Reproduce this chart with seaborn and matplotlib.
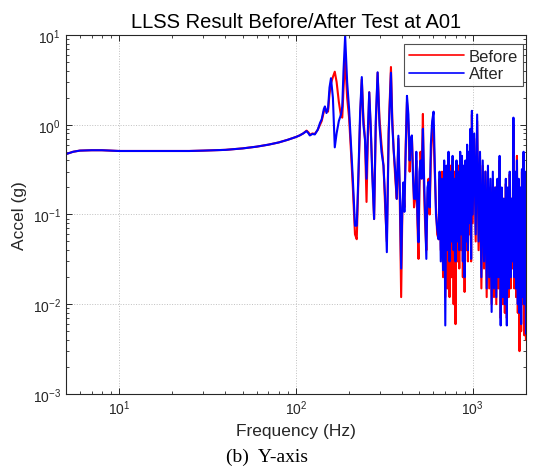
import numpy as np
import pandas as pd
import matplotlib
matplotlib.use("Agg")
import matplotlib.pyplot as plt
import seaborn as sns
from matplotlib.ticker import NullFormatter

# frequency points (Hz)
freq = [5, 5.5, 6, 7, 8, 9, 10, 12, 15, 20,
        25, 30, 40, 50, 60, 70, 80, 90, 100, 105,
        110, 115, 118, 120, 124, 128, 133, 137, 140, 144,
        146, 149, 152, 155, 158, 162, 166, 170, 175, 180,
        183, 186, 190, 195, 200, 205, 210, 216, 221, 226,
        231,
        236, 241, 246, 251, 255, 260, 265, 270, 277, 283,
        290, 297, 305, 313, 320, 327, 335, 345, 351, 357,
        365, 372, 380, 387, 394, 400, 406, 411, 418, 425,
        433, 440, 447, 453, 460, 466, 473, 480, 487, 494,
        500, 507, 515, 523, 530, 538, 547, 555, 563, 571,
        580, 590, 601, 610, 620, 630, 642,
        650, 660, 670, 680, 690, 700, 710, 720, 730, 740,
        750, 760, 770, 780, 790, 800, 810, 820, 830, 840,
        850, 860, 870, 880, 890, 900, 910, 920, 930, 940,
        950, 960, 970, 980, 990, 1000,
        1020, 1040, 1060, 1080, 1100, 1120, 1140, 1160, 1180, 1200,
        1220, 1240, 1260, 1280, 1300, 1320, 1340, 1360, 1380, 1400,
        1420, 1440, 1460, 1480, 1500, 1520, 1540, 1560, 1580, 1600,
        1620, 1640, 1660, 1680, 1700, 1720, 1740, 1760, 1780, 1800,
        1820, 1840, 1860, 1880, 1900, 1920, 1940, 1960, 1980, 2000]

before = [0.47, 0.50, 0.515, 0.52, 0.52, 0.515, 0.51, 0.51, 0.51, 0.51,
          0.51, 0.515, 0.525, 0.545, 0.57, 0.60, 0.635, 0.68, 0.73, 0.76,
          0.80, 0.86, 0.82, 0.77, 0.80, 0.79, 0.88, 1.0, 1.1, 1.4,
          1.55, 1.45, 1.4, 2.2, 2.9, 3.4, 3.9, 3.0, 1.8, 1.25,
          1.2, 2.5, 5.4, 2.0, 1.2, 0.5, 0.2, 0.06, 0.053, 0.25,
          1.2,
          3.2, 1.2, 0.69, 0.138, 0.6, 2.3, 0.9, 0.35, 0.089, 0.9,
          3.8, 1.2, 0.6, 0.35, 0.12, 0.05, 0.9, 4.4, 1.2, 0.54,
          0.25, 0.15, 0.7, 0.15, 0.012, 0.1, 0.2, 0.12, 0.6, 1.8,
          1.0, 0.3, 0.6, 0.75, 0.3, 0.12, 0.15, 0.4, 0.08, 0.032,
          0.2, 0.5, 0.3, 1.32, 0.2, 0.08, 0.04, 0.15, 0.25, 0.1,
          0.4, 0.9, 0.8, 0.3, 0.12, 0.06, 0.053,
          0.25, 0.04, 0.3, 0.02, 0.35, 0.012, 0.3, 0.015, 0.45, 0.012,
          0.35, 0.02, 0.4, 0.01, 0.3, 0.006, 0.35, 0.03, 0.35, 0.025,
          0.45, 0.04, 0.4, 0.02, 0.3, 0.0137, 0.35, 0.04, 0.5, 0.03,
          0.45, 0.06, 0.8, 0.03, 1.3, 0.08,
          0.7, 0.05, 1.1, 0.04, 0.45, 0.015, 0.35, 0.025, 0.3, 0.012,
          0.3, 0.015, 0.2, 0.01, 0.25, 0.012, 0.2, 0.01, 0.22, 0.015,
          0.4, 0.007, 0.18, 0.01, 0.15, 0.008, 0.22, 0.007, 0.18, 0.012,
          0.28, 0.015, 0.15, 0.025, 1.0, 0.015, 0.28, 0.012, 0.45, 0.008,
          0.22, 0.003, 0.18, 0.005, 0.3, 0.01, 0.45, 0.0045, 0.28, 0.004]

after = [0.47, 0.50, 0.515, 0.52, 0.52, 0.515, 0.51, 0.51, 0.51, 0.51,
         0.51, 0.515, 0.525, 0.545, 0.57, 0.60, 0.635, 0.68, 0.73, 0.76,
         0.80, 0.85, 0.80, 0.76, 0.79, 0.78, 0.88, 1.05, 1.15, 1.5,
         1.6, 1.35, 1.5, 2.6, 3.3, 2.0, 0.56, 0.8, 1.1, 1.3,
         1.6, 4.0, 9.8, 3.0, 1.5, 0.6, 0.25, 0.075, 0.075, 0.3,
         1.4,
         3.4, 1.0, 0.69, 0.25, 0.8, 2.3, 1.0, 0.3, 0.089, 1.1,
         3.84, 1.0, 0.5, 0.35, 0.15, 0.038, 0.8, 3.8, 1.0, 0.54,
         0.3, 0.149, 0.755, 0.2, 0.025, 0.12, 0.228, 0.107, 0.5, 2.1,
         1.3, 0.4, 0.7, 0.76, 0.25, 0.15, 0.149, 0.5, 0.1, 0.049,
         0.3, 0.4, 0.25, 0.9, 0.3, 0.1, 0.032, 0.2, 0.23, 0.12,
         0.6, 1.1, 1.4, 0.4, 0.1, 0.07, 0.053,
         0.3, 0.03, 0.25, 0.024, 0.4, 0.0058, 0.35, 0.04, 0.5, 0.03,
         0.3, 0.05, 0.45, 0.04, 0.25, 0.03, 0.4, 0.05, 0.3, 0.04,
         0.5, 0.06, 0.45, 0.03, 0.35, 0.02, 0.4, 0.05, 0.6, 0.04,
         0.5, 0.08, 0.9, 0.032, 1.43, 0.1,
         0.8, 0.06, 1.3, 0.05, 0.5, 0.02, 0.4, 0.03, 0.3, 0.015,
         0.35, 0.02, 0.25, 0.0082, 0.3, 0.015, 0.2, 0.012, 0.25, 0.02,
         0.45, 0.0058, 0.2, 0.012, 0.15, 0.01, 0.25, 0.0058, 0.2, 0.015,
         0.3, 0.02, 0.15, 0.03, 1.2, 0.02, 0.3, 0.015, 0.4, 0.01,
         0.25, 0.008, 0.2, 0.006, 0.32, 0.012, 0.5, 0.01, 0.3, 0.0047]

n = len(freq)
df = pd.DataFrame({
    "Frequency": freq + freq,
    "Accel": before + after,
    "Test": ["Before"] * n + ["After"] * n,
})

sns.set_style("ticks")
plt.rcParams["font.family"] = ["Liberation Sans", "DejaVu Sans"]
dark = "#262626"

fig = plt.figure(figsize=(5.35, 4.77), dpi=100)
ax = fig.add_axes([0.123, 0.172, 0.860, 0.7525])

sns.lineplot(data=df, x="Frequency", y="Accel", hue="Test",
             palette={"Before": "red", "After": "blue"},
             estimator=None, sort=False, lw=1.5, ax=ax)

ax.set_xscale("log")
ax.set_yscale("log")
ax.set_xlim(5, 2000)
ax.set_ylim(1e-3, 1e1)
ax.xaxis.set_minor_formatter(NullFormatter())
ax.yaxis.set_minor_formatter(NullFormatter())

ax.tick_params(which="both", direction="in", top=True, right=True,
               colors=dark, labelsize=10)
ax.tick_params(which="major", length=4, width=0.7)
ax.tick_params(which="minor", length=2.2, width=0.6)
for sp in ax.spines.values():
    sp.set_color(dark)
    sp.set_linewidth(0.8)
ax.grid(True, which="major", ls=":", color="#c0c0c0", lw=0.7)

ax.set_title("LLSS Result Before/After Test at A01", fontsize=14.5, color="black")
ax.set_xlabel("Frequency (Hz)", fontsize=12.5, color=dark)
ax.set_ylabel("Accel (g)", fontsize=12.5, color=dark)

handles, labels = ax.get_legend_handles_labels()
for h in handles:
    h.set_linewidth(1.2)
leg = ax.legend(handles, labels, loc="upper right", bbox_to_anchor=(0.994, 0.975),
                borderaxespad=0, frameon=True, fancybox=False, edgecolor=dark,
                fontsize=12, handlelength=3.3, handletextpad=0.3,
                labelspacing=0.15, borderpad=0.3)
leg.get_frame().set_linewidth(0.8)

fig.text(0.5, 0.042, "(b)  Y-axis", ha="center", va="center", fontsize=14,
         family=["Liberation Serif", "DejaVu Serif"], color="black")

fig.savefig("out.png", dpi=100)
